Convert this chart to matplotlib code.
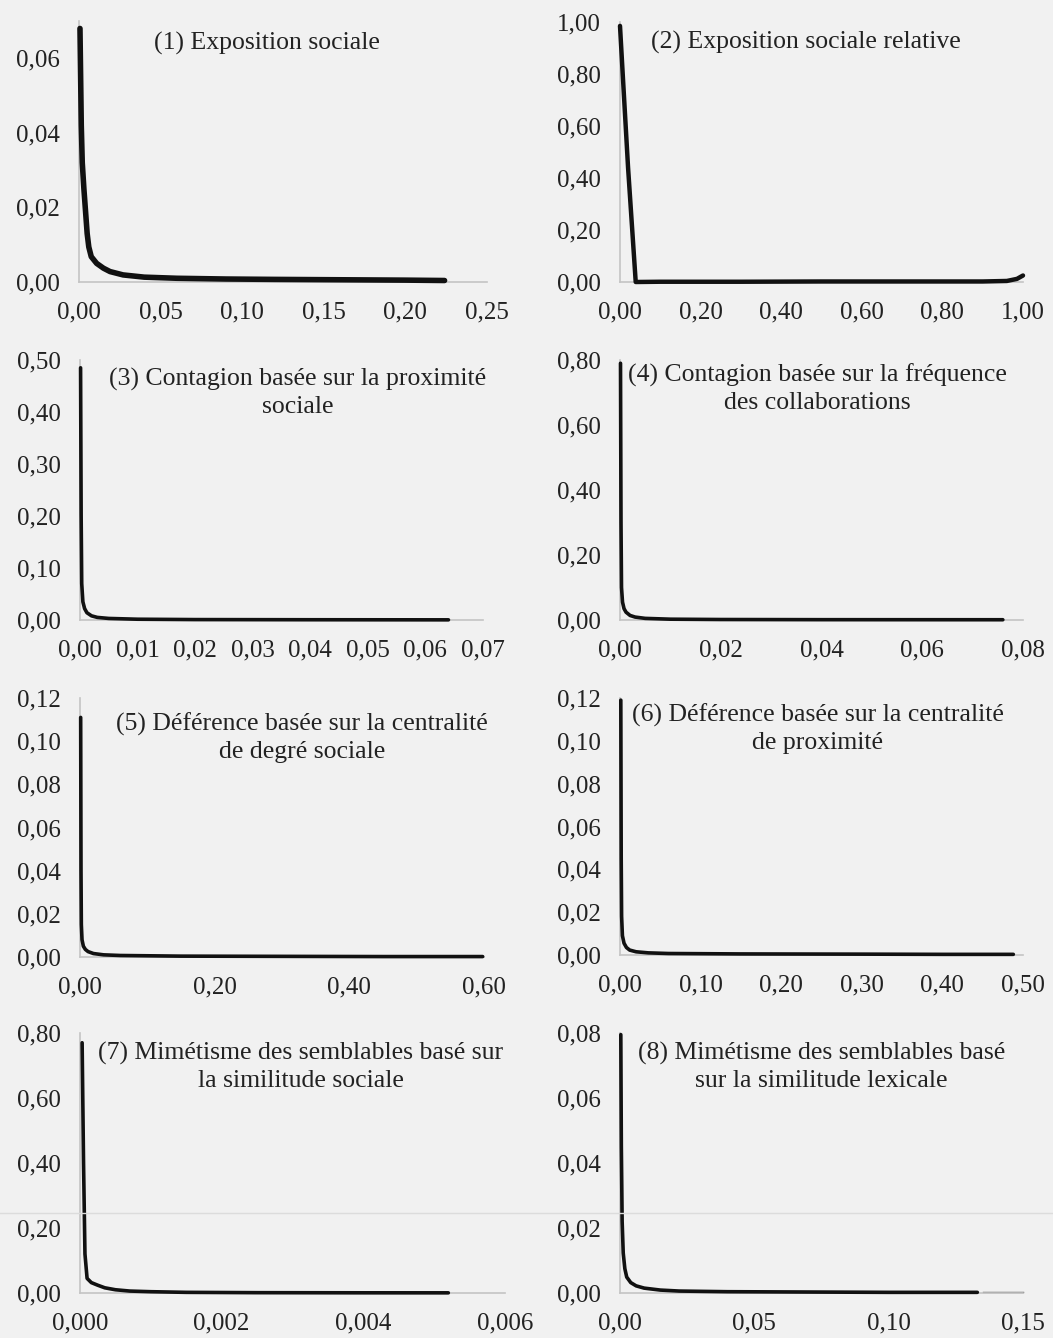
import matplotlib.pyplot as plt
from matplotlib.ticker import FuncFormatter
from matplotlib.lines import Line2D

# values
titles = ['(1) Exposition sociale',
          '(2) Exposition sociale relative',
          '(3) Contagion basée sur la proximité\nsociale',
          '(4) Contagion basée sur la fréquence\ndes collaborations',
          '(5) Déférence basée sur la centralité\nde degré sociale',
          '(6) Déférence basée sur la centralité\nde proximité',
          '(7) Mimétisme des semblables basé sur\nla similitude sociale',
          '(8) Mimétisme des semblables basé\nsur la similitude lexicale']

p1_x = [0.0006, 0.0010, 0.0014, 0.0020, 0.0030, 0.0040, 0.0050, 0.0060, 0.0075, 0.0108, 0.015, 0.019, 0.027, 0.040, 0.060, 0.090, 0.120, 0.160, 0.200, 0.224]
p1_y = [0.068, 0.055, 0.042, 0.032, 0.025, 0.019, 0.013, 0.0094, 0.0068, 0.005, 0.0037, 0.0028, 0.0019, 0.0013, 0.0010, 0.0008, 0.0007, 0.0006, 0.0005, 0.0004]

p2_x = [0.000, 0.006, 0.020, 0.039, 0.100, 0.300, 0.500, 0.700, 0.900, 0.960, 0.985, 1.000]
p2_y = [0.985, 0.820, 0.440, 0.000, 0.001, 0.001, 0.002, 0.002, 0.002, 0.004, 0.012, 0.025]

p3_x = [0.0001, 0.0002, 0.0003, 0.0005, 0.0008, 0.0012, 0.002, 0.003, 0.005, 0.010, 0.020, 0.040, 0.064]
p3_y = [0.485, 0.20, 0.07, 0.035, 0.022, 0.014, 0.008, 0.005, 0.003, 0.0015, 0.0008, 0.0005, 0.0003]

p4_x = [0.0001, 0.0002, 0.0003, 0.0005, 0.0008, 0.0012, 0.002, 0.003, 0.005, 0.010, 0.020, 0.040, 0.076]
p4_y = [0.79, 0.30, 0.10, 0.055, 0.035, 0.024, 0.014, 0.009, 0.005, 0.0025, 0.0015, 0.0010, 0.0008]

p5_x = [0.001, 0.0015, 0.002, 0.003, 0.005, 0.008, 0.012, 0.020, 0.035, 0.060, 0.150, 0.300, 0.450, 0.598]
p5_y = [0.111, 0.040, 0.015, 0.008, 0.005, 0.0035, 0.0025, 0.0016, 0.0010, 0.0007, 0.0004, 0.0003, 0.0002, 0.0002]

p6_x = [0.001, 0.0015, 0.002, 0.003, 0.005, 0.008, 0.012, 0.020, 0.035, 0.060, 0.150, 0.300, 0.400, 0.488]
p6_y = [0.119, 0.045, 0.018, 0.009, 0.0055, 0.0035, 0.0023, 0.0015, 0.0010, 0.0007, 0.0005, 0.0004, 0.0003, 0.0003]

p7_x = [0.00003, 0.00005, 0.00007, 0.00010, 0.00016, 0.00025, 0.00035, 0.0005, 0.0007, 0.0010, 0.0015, 0.0025, 0.0040, 0.0052]
p7_y = [0.77, 0.40, 0.12, 0.045, 0.032, 0.024, 0.016, 0.010, 0.006, 0.004, 0.002, 0.001, 0.0006, 0.0005]

p8_x = [0.0003, 0.0005, 0.0008, 0.0012, 0.0018, 0.0025, 0.0040, 0.0060, 0.0090, 0.015, 0.022, 0.040, 0.070, 0.100, 0.133]
p8_y = [0.0795, 0.045, 0.022, 0.0123, 0.0075, 0.0049, 0.0032, 0.0022, 0.0015, 0.0009, 0.0006, 0.0004, 0.0003, 0.0002, 0.0002]
p8_tail_x = [0.135, 0.150]
p8_tail_y = [0.0002, 0.0002]

xs = [p1_x, p2_x, p3_x, p4_x, p5_x, p6_x, p7_x, p8_x]
ys = [p1_y, p2_y, p3_y, p4_y, p5_y, p6_y, p7_y, p8_y]

x_ticks = [[0, 0.05, 0.10, 0.15, 0.20, 0.25],
           [0, 0.2, 0.4, 0.6, 0.8, 1.0],
           [0, 0.01, 0.02, 0.03, 0.04, 0.05, 0.06, 0.07],
           [0, 0.02, 0.04, 0.06, 0.08],
           [0, 0.2, 0.4, 0.6],
           [0, 0.1, 0.2, 0.3, 0.4, 0.5],
           [0, 0.002, 0.004, 0.006],
           [0, 0.05, 0.10, 0.15]]
y_ticks = [[0, 0.02, 0.04, 0.06],
           [0, 0.2, 0.4, 0.6, 0.8, 1.0],
           [0, 0.1, 0.2, 0.3, 0.4, 0.5],
           [0, 0.2, 0.4, 0.6, 0.8],
           [0, 0.02, 0.04, 0.06, 0.08, 0.10, 0.12],
           [0, 0.02, 0.04, 0.06, 0.08, 0.10, 0.12],
           [0, 0.2, 0.4, 0.6, 0.8],
           [0, 0.02, 0.04, 0.06, 0.08]]
y_max = [0.07, 1.0, 0.5, 0.8, 0.12, 0.12, 0.8, 0.08]
x_dec = [2, 2, 2, 2, 2, 2, 3, 2]

# axes boxes in pixels: left, right, bottom, top
boxes = [(79, 487, 282, 21), (620, 1023, 282, 22),
         (80, 483, 620, 360), (620, 1023, 620, 360),
         (80, 484, 957, 698), (620, 1023, 955, 698),
         (80, 505, 1293, 1033), (620, 1023, 1293, 1033)]
title_pos = [(0.46, 0.915), (0.46, 0.92), (0.54, 0.873), (0.49, 0.89),
             (0.55, 0.846), (0.49, 0.88), (0.52, 0.87), (0.50, 0.87)]
lws = [4.0, 3.2, 2.6, 2.6, 2.6, 2.6, 2.6, 2.6]

W, H = 1053, 1338
bg = '#f1f1f1'
plt.rcParams['font.family'] = ['Liberation Serif', 'DejaVu Serif']

fig = plt.figure(figsize=(W / 100, H / 100), dpi=100, facecolor=bg)


def fmt(d):
    return FuncFormatter(lambda v, _: f"{v:.{d}f}".replace('.', ','))


for i in range(8):
    l, r, b, t = boxes[i]
    ax = fig.add_axes([l / W, 1 - b / H, (r - l) / W, (b - t) / H])
    ax.set_facecolor(bg)
    ax.plot(xs[i], ys[i], color='#111111', lw=lws[i], solid_capstyle='round',
            solid_joinstyle='round', clip_on=False, zorder=3)
    if i == 7:
        ax.plot(p8_tail_x, p8_tail_y, color='#555555', lw=1.0, clip_on=False)
    ax.set_xlim(0, x_ticks[i][-1])
    ax.set_ylim(0, y_max[i])
    ax.set_xticks(x_ticks[i])
    ax.set_yticks(y_ticks[i])
    ax.xaxis.set_major_formatter(fmt(x_dec[i]))
    ax.yaxis.set_major_formatter(fmt(2))
    ax.tick_params(axis='both', length=0, labelsize=18, colors='#222222')
    ax.tick_params(axis='y', pad=14)
    ax.tick_params(axis='x', pad=14)
    for s in ['top', 'right']:
        ax.spines[s].set_visible(False)
    for s in ['left', 'bottom']:
        ax.spines[s].set_color('#c4c4c4')
        ax.spines[s].set_linewidth(1.2)
    ax.text(title_pos[i][0], title_pos[i][1], titles[i], transform=ax.transAxes,
            ha='center', va='center', fontsize=18.5, color='#222222',
            linespacing=1.3)

# faint scan line across the page
fig.add_artist(Line2D([0, 1], [1 - 1213 / H, 1 - 1213 / H], color='#dcdcdc', lw=1.0))

fig.savefig('out.png', dpi=100, facecolor=bg)
